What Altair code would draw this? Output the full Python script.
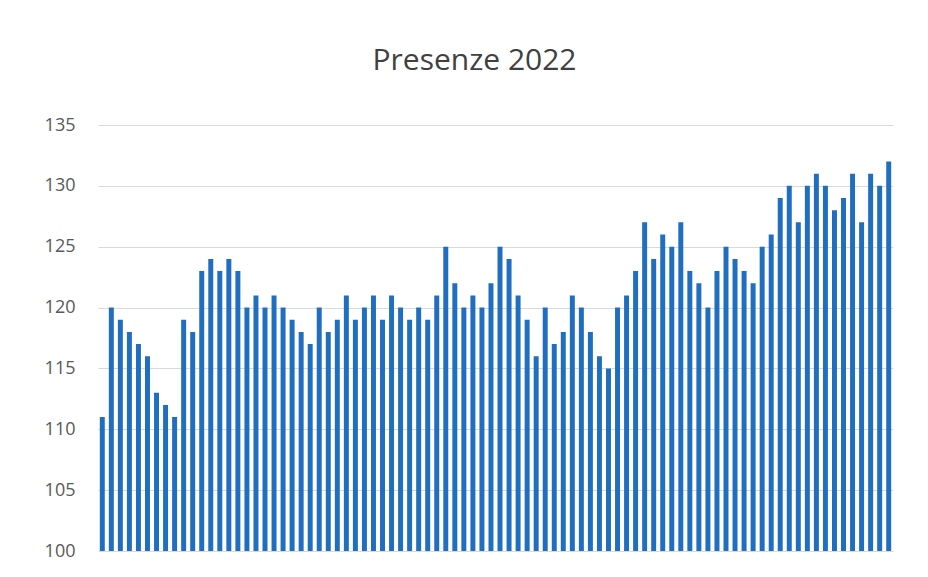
import altair as alt
import pandas as pd

values = [111, 120, 119, 118, 117, 116, 113, 112, 111, 119,
          118, 123, 124, 123, 124, 123, 120, 121, 120, 121,
          120, 119, 118, 117, 120, 118, 119, 121, 119, 120,
          121, 119, 121, 120, 119, 120, 119, 121, 125, 122,
          120, 121, 120, 122, 125, 124, 121, 119, 116, 120,
          117, 118, 121, 120, 118, 116, 115, 120, 121, 123,
          127, 124, 126, 125, 127, 123, 122, 120, 123, 125,
          124, 123, 122, 125, 126, 129, 130, 127, 130, 131,
          130, 128, 129, 131, 127, 131, 130, 132]
days = list(range(1, len(values) + 1))
y_ticks = [100, 105, 110, 115, 120, 125, 130, 135]

df = pd.DataFrame({"giorno": days, "presenze": values})

chart = alt.Chart(df).mark_bar(color="#1F6EBF", clip=True).encode(
    x=alt.X("giorno:O", axis=None,
            scale=alt.Scale(paddingInner=0.45, paddingOuter=0.2)),
    y=alt.Y("presenze:Q",
            scale=alt.Scale(domain=[100, 135], nice=False, zero=False),
            axis=alt.Axis(values=y_ticks, title=None, domain=False, ticks=False,
                          grid=True, gridColor="#D9D9D9", gridWidth=1,
                          labelFontSize=18, labelColor="#595959",
                          labelFont="Open Sans", labelPadding=23)),
    y2=alt.datum(100),
).properties(
    width=795,
    height=426,
    background="white",
    title=alt.TitleParams("Presenze 2022", fontSize=30, font="Open Sans",
                          fontWeight="normal", color="#404040",
                          anchor="middle", offset=40, dx=-21),
    autosize=alt.AutoSizeParams(type="none"),
    padding={"left": 98, "top": 125, "right": 35, "bottom": 26},
).configure_view(stroke=None)

chart.save("out.html", embed_options={"renderer": "svg", "actions": False})
